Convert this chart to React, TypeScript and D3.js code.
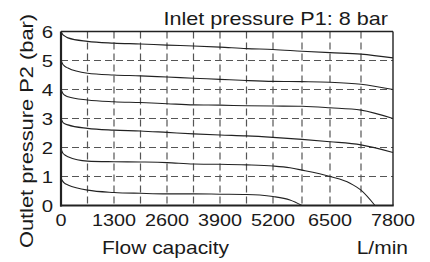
import React from "react";
import * as d3 from "d3";

const flowTicks = [0, 1300, 2600, 3900, 5200, 6500, 7800];
const flowGrid = [650, 1300, 1950, 2600, 3250, 3900, 4550, 5200, 5850, 6500, 7150];
const pressureTicks = [0, 1, 2, 3, 4, 5, 6];
const pressureGrid = [1, 2, 3, 4, 5];

const curveSet6: [number, number][] = [
  [0, 6], [40, 5.9], [95, 5.84], [170, 5.78], [650, 5.66], [1300, 5.6], [1950, 5.57], [2600, 5.53],
  [3250, 5.5], [3900, 5.46], [4550, 5.41], [5200, 5.38], [5850, 5.32], [6500, 5.27], [7150, 5.22], [7800, 5.09],
];
const curveSet5: [number, number][] = [
  [0, 5], [40, 4.88], [95, 4.8], [170, 4.74], [650, 4.56], [1300, 4.5], [1950, 4.47], [2600, 4.43],
  [3250, 4.39], [3900, 4.35], [4550, 4.31], [5200, 4.28], [5850, 4.27], [6500, 4.25], [7150, 4.18], [7800, 4.0],
];
const curveSet4: [number, number][] = [
  [0, 4], [40, 3.88], [95, 3.8], [170, 3.75], [650, 3.64], [1300, 3.58], [1950, 3.55], [2600, 3.51],
  [3250, 3.47], [3900, 3.46], [4550, 3.44], [5200, 3.43], [5850, 3.42], [6500, 3.37], [7150, 3.29], [7800, 3.0],
];
const curveSet3: [number, number][] = [
  [0, 3], [40, 2.88], [95, 2.82], [170, 2.78], [650, 2.66], [1300, 2.6], [1950, 2.57], [2600, 2.52],
  [3250, 2.47], [3900, 2.43], [4550, 2.4], [5200, 2.35], [5850, 2.28], [6500, 2.2], [7150, 2.09], [7800, 1.83],
];
const curveSet2: [number, number][] = [
  [0, 1.95], [40, 1.82], [95, 1.74], [170, 1.68], [650, 1.53], [1300, 1.51], [1950, 1.5], [2600, 1.48],
  [3250, 1.43], [3900, 1.42], [4550, 1.4], [5200, 1.36], [5580, 1.3], [5850, 1.22], [6500, 1.0],
  [6920, 0.77], [7150, 0.53], [7434, 0],
];
const curveSet1: [number, number][] = [
  [0, 0.95], [40, 0.84], [95, 0.76], [170, 0.71], [650, 0.53], [1300, 0.45], [1950, 0.42], [2600, 0.4],
  [3250, 0.4], [3900, 0.39], [4550, 0.38], [4875, 0.36], [5200, 0.31], [5580, 0.19], [5850, 0],
];
const curves = [curveSet6, curveSet5, curveSet4, curveSet3, curveSet2, curveSet1];

const FONT = "'Liberation Sans', Arial, sans-serif";
const SX = 1.2;

export default function App() {
  const x = d3
    .scaleLinear()
    .domain([0, 5200, 5850, 6500, 7150, 7800])
    .range([61, 273, 302, 330, 361, 393]);
  const y = d3.scaleLinear().domain([0, 6]).range([205.5, 31.5]);
  const line = d3
    .line<[number, number]>()
    .x((d) => x(d[0]))
    .y((d) => y(d[1]))
    .curve(d3.curveMonotoneX);

  const label = (
    tx: number,
    ty: number,
    text: string,
    size: number,
    anchor: "start" | "middle" | "end",
    rotate = 0,
    baseline: string = "alphabetic"
  ) => (
    <text
      transform={`translate(${tx},${ty}) rotate(${rotate}) scale(${SX},1)`}
      fontFamily={FONT}
      fontSize={size}
      textAnchor={anchor}
      dominantBaseline={baseline}
      fill="#1a1a1a"
    >
      {text}
    </text>
  );

  return (
    <svg
      width={430}
      height={262}
      style={{ position: "absolute", left: 0, top: 0, background: "#fff" }}
    >
      <rect x={0} y={0} width={430} height={262} fill="#fff" />
      {flowGrid.map((f) => (
        <line
          key={"v" + f}
          x1={x(f)}
          x2={x(f)}
          y1={y(6)}
          y2={y(0)}
          stroke="#555"
          strokeWidth={1.2}
          strokeDasharray="7,4"
        />
      ))}
      {pressureGrid.map((p) => (
        <line
          key={"h" + p}
          x1={x(0)}
          x2={x(7800)}
          y1={y(p)}
          y2={y(p)}
          stroke="#555"
          strokeWidth={1.2}
          strokeDasharray="7,4"
        />
      ))}
      {curves.map((c, i) => (
        <path key={"c" + i} d={line(c) || ""} fill="none" stroke="#222" strokeWidth={1.1} />
      ))}
      <line x1={x(0)} x2={x(7800)} y1={y(6)} y2={y(6)} stroke="#222" strokeWidth={1.4} />
      <line x1={x(7800)} x2={x(7800)} y1={y(6)} y2={y(0)} stroke="#222" strokeWidth={1.4} />
      <line x1={x(0)} x2={x(0)} y1={y(6)} y2={y(0) + 1} stroke="#222" strokeWidth={2.2} />
      <line x1={x(0) - 1} x2={x(7800) + 0.7} y1={y(0)} y2={y(0)} stroke="#222" strokeWidth={2.2} />
      {pressureTicks.map((p) => (
        <g key={"yt" + p}>{label(53, y(p) + 6, String(p), 17, "end")}</g>
      ))}
      {flowTicks.map((f) => (
        <g key={"xt" + f}>{label(x(f), 226, String(f), 16.5, "middle")}</g>
      ))}
      {label(388, 25, "Inlet pressure P1: 8 bar", 18, "end")}
      {label(102, 254, "Flow capacity", 17.5, "start")}
      {label(408, 254, "L/min", 17.5, "end")}
      {label(33, 131, "Outlet pressure P2 (bar)", 18.2, "middle", -90)}
    </svg>
  );
}
